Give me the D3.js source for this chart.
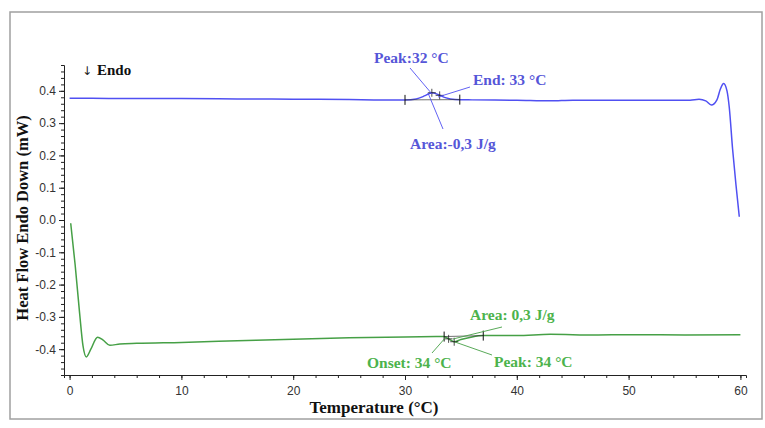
<!DOCTYPE html>
<html>
<head>
<meta charset="utf-8">
<script src="https://cdn.jsdelivr.net/npm/d3@7"></script>
<style>
  body { margin: 0; background: #fff; }
  svg { display: block; }
  .tick text { font-family: "Liberation Sans", Arial, sans-serif; font-size: 12px; fill: #333; }
  .lbl { font-family: "Liberation Serif", serif; font-weight: bold; }
</style>
</head>
<body>
<svg id="chart" width="765" height="428"></svg>
<script>
// data
var blueT = [0, 2, 5, 8, 10, 15, 20, 25, 28, 30, 31, 31.8, 32.4, 33, 33.6, 34.5, 36, 40, 43, 45, 50, 54, 55.5, 56.3, 56.9, 57.4, 57.9, 58.2, 58.5, 58.8, 59.0, 59.3, 59.6, 59.9];
var blueV = [0.377, 0.377, 0.376, 0.376, 0.376, 0.375, 0.374, 0.373, 0.372, 0.372, 0.375, 0.385, 0.394, 0.388, 0.379, 0.373, 0.372, 0.371, 0.369, 0.371, 0.371, 0.371, 0.371, 0.374, 0.369, 0.356, 0.372, 0.405, 0.423, 0.40, 0.35, 0.22, 0.11, 0.01];
var greenT = [0.1, 0.5, 0.9, 1.2, 1.5, 1.9, 2.5, 3.0, 3.6, 4.5, 6, 10, 15, 20, 25, 30, 33.5, 34.0, 34.4, 35, 36, 37, 40, 43, 47, 50, 55, 60];
var greenV = [-0.01, -0.14, -0.29, -0.39, -0.424, -0.40, -0.363, -0.372, -0.388, -0.384, -0.382, -0.379, -0.374, -0.369, -0.365, -0.362, -0.361, -0.370, -0.377, -0.370, -0.362, -0.358, -0.358, -0.354, -0.356, -0.355, -0.356, -0.355];
var xTicks = [0, 10, 20, 30, 40, 50, 60];
var yTicks = [-0.4, -0.3, -0.2, -0.1, 0.0, 0.1, 0.2, 0.3, 0.4];
// analysis limits (black marks)
var blueLimits = [30.0, 34.9];
var greenLimits = [33.5, 37.0];

var blue = "#5050f2", blueTxt = "#5656d8";
var green = "#46a046", greenTxt = "#4cb34c";

var svg = d3.select("#chart");
svg.append("rect").attr("x", 10).attr("y", 12).attr("width", 752).attr("height", 407)
    .attr("fill", "none").attr("stroke", "#a0a0a0").attr("stroke-width", 1.5);

var x = d3.scaleLinear().domain([-0.5, 60.5]).range([64, 746]);
var y = d3.scaleLinear().domain([-0.48, 0.48]).range([375, 65]);

// axes: minor ticks first, then majors with labels
var gx = svg.append("g").attr("transform", "translate(0,375)");
gx.append("g").call(d3.axisBottom(x).tickValues(d3.range(0, 61, 2)).tickFormat("").tickSize(3));
var gxMaj = gx.append("g").call(d3.axisBottom(x).tickValues(xTicks).tickFormat(d3.format("d")).tickSize(5));
gxMaj.select("path").remove();
gx.selectAll("path").attr("stroke", "#222");
gx.selectAll("line").attr("stroke", "#222");
gxMaj.selectAll(".tick text").attr("dy", "1.0em");

var gy = svg.append("g").attr("transform", "translate(64,0)");
gy.append("g").call(d3.axisLeft(y).tickValues(d3.range(-48, 49, 2).map(function (d) { return d / 100; })).tickFormat("").tickSize(3));
var gyMaj = gy.append("g").call(d3.axisLeft(y).tickValues(yTicks).tickSize(5));
gyMaj.select("path").remove();
gy.selectAll("path").attr("stroke", "#222");
gy.selectAll("line").attr("stroke", "#222");
gyMaj.selectAll(".tick text").text(function (d) { return d3.format(".1f")(d).replace("−", "-"); });

// curves
var line = d3.line()
    .x(function (d) { return x(d[0]); })
    .y(function (d) { return y(d[1]); })
    .curve(d3.curveMonotoneX);
var blueData = blueT.map(function (t, i) { return [t, blueV[i]]; });
var greenData = greenT.map(function (t, i) { return [t, greenV[i]]; });

svg.append("path").datum(blueData).attr("d", line)
    .attr("fill", "none").attr("stroke", blue).attr("stroke-width", 1.5);
svg.append("path").datum(greenData).attr("d", line)
    .attr("fill", "none").attr("stroke", green).attr("stroke-width", 1.5);

function valueAt(ts, vs, t) {
    return d3.scaleLinear().domain(ts).range(vs)(t);
}

// baselines between limits and limit marks
function limits(lims, ts, vs) {
    var y0 = y(valueAt(ts, vs, lims[0])), y1 = y(valueAt(ts, vs, lims[1]));
    svg.append("line").attr("x1", x(lims[0])).attr("y1", y0).attr("x2", x(lims[1])).attr("y2", y1)
        .attr("stroke", "#333").attr("stroke-width", 0.7);
    lims.forEach(function (t, i) {
        var yy = i ? y1 : y0;
        svg.append("line").attr("x1", x(t)).attr("x2", x(t)).attr("y1", yy - 5).attr("y2", yy + 5)
            .attr("stroke", "#111").attr("stroke-width", 1);
    });
}
limits(blueLimits, blueT, blueV);
limits(greenLimits, greenT, greenV);

// peak crosses
function cross(t, v) {
    var cx = x(t), cy = y(v);
    svg.append("path").attr("d", "M" + (cx - 4) + "," + cy + "H" + (cx + 4) + "M" + cx + "," + (cy - 4) + "V" + (cy + 4))
        .attr("stroke", "#222").attr("stroke-width", 0.8);
}
cross(32.4, 0.394);
cross(33.1, 0.386);
cross(34.4, -0.377);
cross(33.9, -0.368);

// annotation leaders + labels
var notes = [
    { t: "Peak:32 °C", x: 374, y: 63, c: blueTxt, lc: blue, l: [410, 68, 432, 94] },
    { t: "End: 33 °C", x: 473, y: 85, c: blueTxt, lc: blue, l: [470, 87, 438, 97] },
    { t: "Area:-0,3 J/g", x: 410, y: 149, c: blueTxt, lc: blue, l: [428, 93, 443, 129] },
    { t: "Area: 0,3 J/g", x: 470, y: 320, c: greenTxt, lc: green, l: [502, 327, 453, 339] },
    { t: "Onset: 34 °C", x: 367, y: 368, c: greenTxt, lc: green, l: [432, 353, 446, 337] },
    { t: "Peak: 34 °C", x: 494, y: 367, c: greenTxt, lc: green, l: [492, 355, 455, 342] }
];
notes.forEach(function (n) {
    svg.append("line").attr("x1", n.l[0]).attr("y1", n.l[1]).attr("x2", n.l[2]).attr("y2", n.l[3])
        .attr("stroke", n.lc).attr("stroke-width", 0.9);
    svg.append("text").attr("class", "lbl").attr("x", n.x).attr("y", n.y)
        .attr("font-size", 15.5).attr("fill", n.c).text(n.t);
});

svg.append("text").attr("x", 82).attr("y", 75).attr("font-family", "DejaVu Sans").attr("font-size", 12)
    .attr("fill", "#222").text("↓");
svg.append("text").attr("class", "lbl").attr("x", 97).attr("y", 75).attr("font-size", 15)
    .attr("fill", "#111").text("Endo");

// axis titles
svg.append("text").attr("class", "lbl").attr("x", 374).attr("y", 413).attr("text-anchor", "middle")
    .attr("font-size", 17).attr("fill", "#111").text("Temperature (°C)");
svg.append("text").attr("class", "lbl").attr("transform", "translate(28,218) rotate(-90)")
    .attr("text-anchor", "middle").attr("font-size", 16.5).attr("fill", "#111").text("Heat Flow Endo Down (mW)");
</script>
</body>
</html>
